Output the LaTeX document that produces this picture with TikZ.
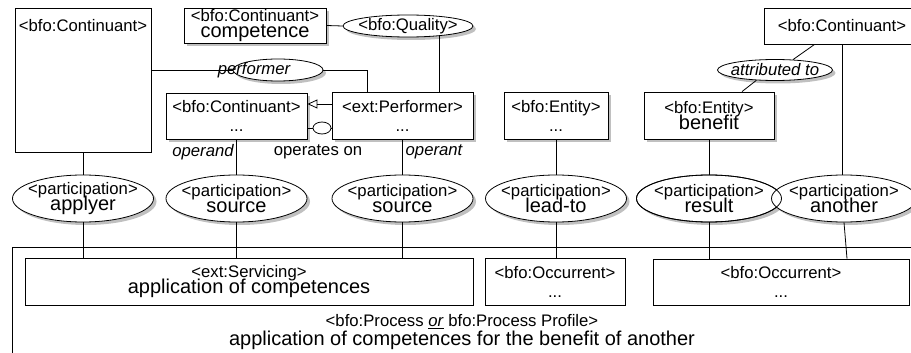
\documentclass[tikz,border=0pt]{standalone}
\usepackage{fontspec}
\setmainfont{Liberation Sans}
\usetikzlibrary{shapes.geometric,shadows,arrows.meta,calc}
\newcommand{\stx}{\fontsize{16.7}{19}\selectfont}
\newcommand{\nmx}{\fontsize{20}{19}\selectfont}
\begin{document}
\begin{tikzpicture}[x=1pt,y=-1pt,line width=0.8pt,
  shad/.style={drop shadow={shadow xshift=3pt,shadow yshift=-3pt,opacity=0.35,fill=black!70}},
  box/.style={draw,fill=white,rectangle,inner sep=0pt,align=center,font=\stx},
  ell/.style={draw,fill=white,ellipse,inner sep=0pt},
  lbl/.style={font=\stx,inner sep=0pt,align=center},
  role/.style={font=\stx\itshape,inner sep=0pt},
]
\clip (0,0) rectangle (911,353);
\fill[white] (0,0) rectangle (911,353);

% outer frame
\node[draw,rectangle,anchor=north west,minimum width=950pt,minimum height=150pt,inner sep=0pt] (frame) at (12,247) {};
\node[lbl] (ftxt) at (462,332) {<bfo:Process \underline{\textit{or}} bfo:Process Profile>\\{\nmx application of competences for the benefit of another}};

% top row
\node[box,minimum width=136pt,minimum height=144pt,
  label={[lbl,anchor=north,yshift=-11pt]north:<bfo:Continuant>}] (cL) at (83,80) {};
\node[box,shad,minimum width=142pt,minimum height=35pt] (comp) at (255,25.5) {<bfo:Continuant>\\[-3pt]{\nmx competence}};
\node[ell,shad,minimum width=130pt,minimum height=22pt,label={[lbl]center:<bfo:Quality>}] (qual) at (408,26) {};
\node[ell,shad,minimum width=90pt,minimum height=22pt,label={[role,xshift=-24pt]center:performer}] (perfE) at (278,70) {};
\node[box,shad,minimum width=141pt,minimum height=46pt] (cont2) at (236.5,116) {<bfo:Continuant>\\...};
\node[box,shad,minimum width=141pt,minimum height=47pt] (perf) at (402.5,115.5) {<ext:Performer>\\...};
\node[box,shad,minimum width=104pt,minimum height=47pt] (ent) at (556,115.5) {<bfo:Entity>\\...};
\node[box,shad,minimum width=130pt,minimum height=47pt] (ben) at (709,115.5) {<bfo:Entity>\\[-3pt]{\nmx benefit}};
\node[box,minimum width=156pt,minimum height=36pt] (cR) at (842,26) {<bfo:Continuant>};
\node[ell,shad,minimum width=115pt,minimum height=21pt,label={[role]center:attributed to}] (att) at (775,70) {};
\node[draw,fill=white,ellipse,inner sep=0pt,minimum width=18pt,minimum height=12pt] (ball) at (322,128) {};

% role labels
\node[role] (lopd) at (203,152) {operand};
\node[lbl] (lops) at (318,152) {operates on};
\node[role] (lopt) at (434,152) {operant};

% participations
\node[ell,shad,minimum width=141pt,minimum height=47pt,label={[lbl]center:<participation>\\[-3pt]{\nmx applyer}}] (p1) at (83,198.5) {};
\node[ell,shad,minimum width=141pt,minimum height=47pt,label={[lbl]center:<participation>\\[-3pt]{\nmx source}}] (p2) at (236.5,198.5) {};
\node[ell,shad,minimum width=141pt,minimum height=47pt,label={[lbl]center:<participation>\\[-3pt]{\nmx source}}] (p3) at (402.5,198.5) {};
\node[ell,shad,minimum width=141pt,minimum height=47pt,label={[lbl]center:<participation>\\[-3pt]{\nmx lead-to}}] (p4) at (556,198.5) {};
\node[ell,shad,minimum width=145pt,minimum height=47pt,label={[lbl]center:<participation>\\[-3pt]{\nmx result}}] (p5) at (709,198.5) {};
\node[ell,shad,minimum width=145pt,minimum height=47pt,label={[lbl]center:<participation>\\[-3pt]{\nmx another}}] (p6) at (844,198.5) {};
\draw (p5.center) ellipse [x radius=72.5pt,y radius=23.5pt];

% bottom boxes
\node[box,minimum width=448pt,minimum height=47pt] (serv) at (249,281.5) {<ext:Servicing>\\[-3pt]{\nmx application of competences}};
\node[box,minimum width=140pt,minimum height=47pt] (occ1) at (555,281.5) {<bfo:Occurrent>\\...};
\node[box,minimum width=256pt,minimum height=46pt] (occ2) at (781,282) {<bfo:Occurrent>\\...};

% connectors
\draw (comp.east) -- (qual.west);
\draw (qual.-18) -- (qual.-18 |- perf.north);
\draw (perfE.west -| cL.east) -- (perfE.west);
\draw (perfE.east) -| ([xshift=-35.5pt]perf.north);
\draw[-{Triangle[open,length=10pt,width=9pt]}] ([yshift=11.5pt]perf.west) -- ([yshift=11.5pt]perf.west -| cont2.east);
\draw (ball.west -| cont2.east) -- (ball.west);
\draw (ball.east) -- (ball.east -| perf.west);
\draw ([xshift=51pt]cR.south west) -- (att.30);
\draw (att.209) -- ([xshift=33pt]ben.north);

\draw (cL.south) -- (p1.north);
\draw (p1.south) -- (p1.south |- serv.north);
\draw (cont2.south) -- (p2.north);
\draw (p2.south) -- (p2.south |- serv.north);
\draw (perf.south) -- (p3.north);
\draw (p3.south) -- (p3.south |- serv.north);
\draw (ent.south) -- (p4.north);
\draw (p4.south) -- (p4.south |- occ1.north);
\draw (ben.south) -- (p5.north);
\draw (p5.south) -- (p5.south |- occ2.north);
\draw (cR.south) -- (cR.south |- p6.north);
\draw (p6.south) -- ([xshift=66pt]occ2.north);
\end{tikzpicture}
\end{document}
